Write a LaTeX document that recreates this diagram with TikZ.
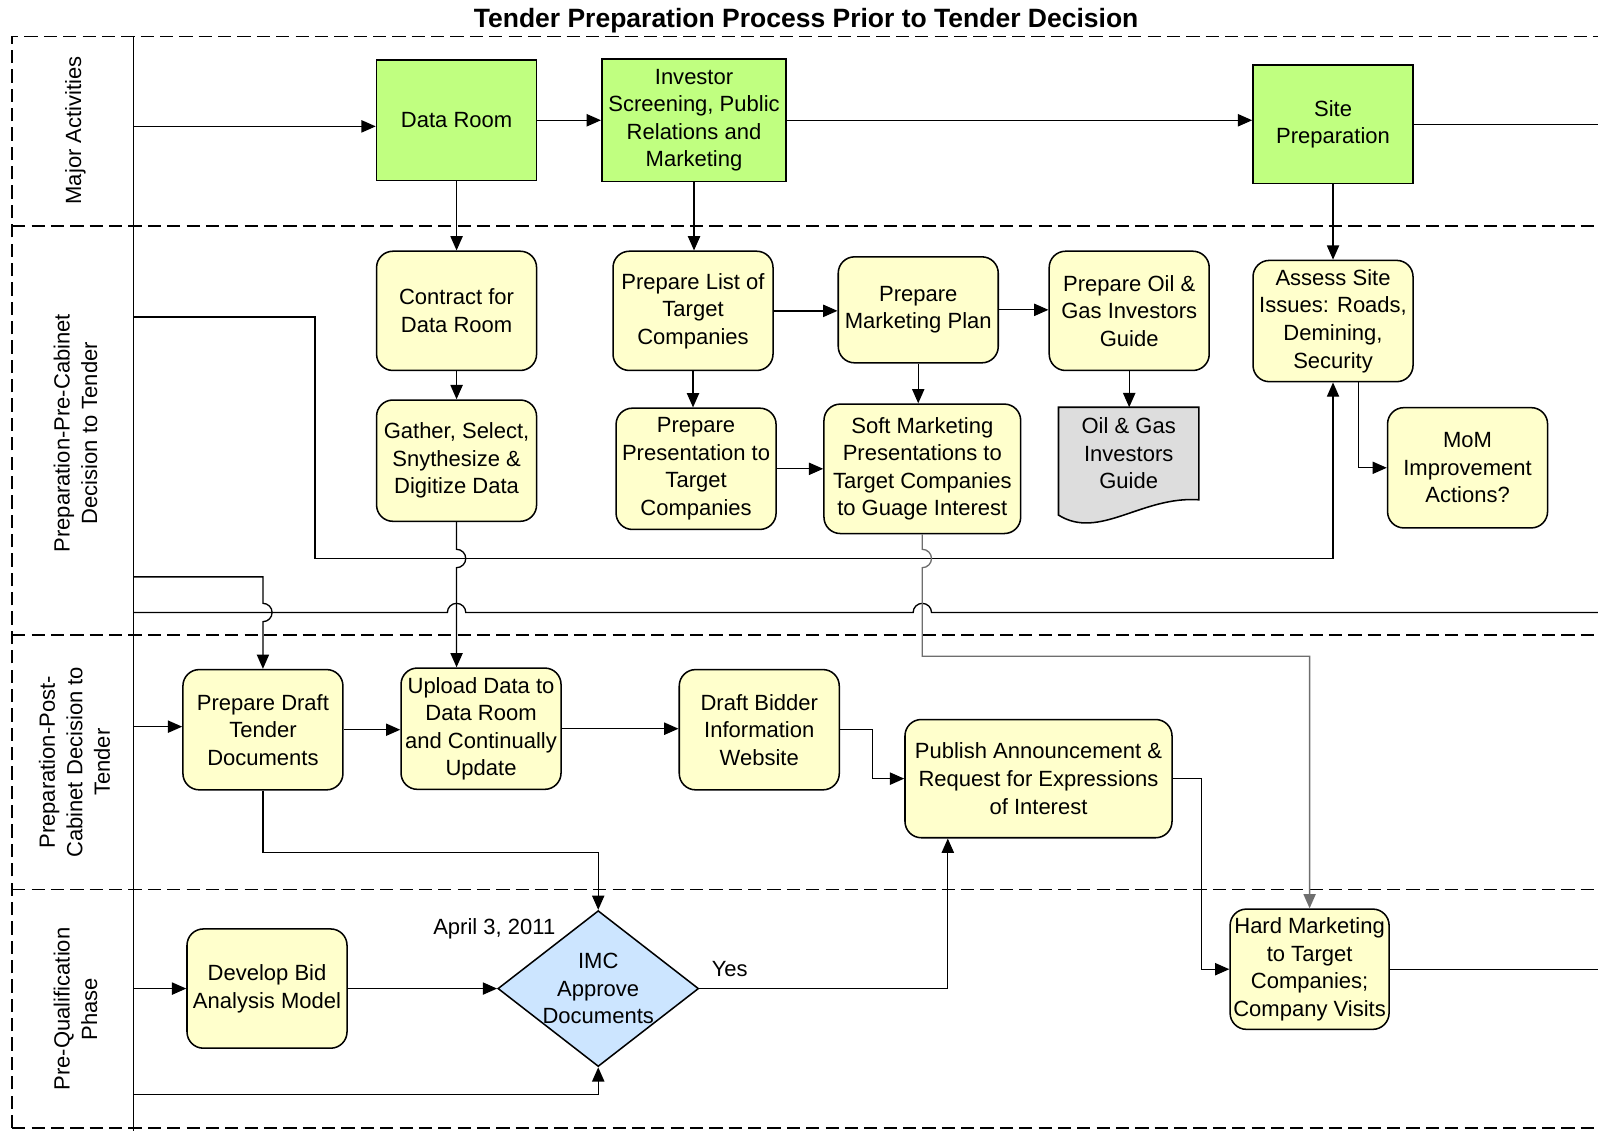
\documentclass[tikz,border=0pt]{standalone}
\usepackage{fontspec}
\setmainfont{Liberation Sans}
\usetikzlibrary{arrows.meta,shapes.geometric,calc,backgrounds}
\definecolor{actgreen}{HTML}{C0FF80}
\definecolor{taskyellow}{HTML}{FFFFCC}
\definecolor{docgray}{HTML}{DDDDDD}
\definecolor{decblue}{HTML}{CCE5FF}
\definecolor{softline}{HTML}{6E6E6E}

\begin{document}
\begin{tikzpicture}[x=0.5pt,y=-0.5pt,
  every node/.style={font=\fontsize{10.8pt}{13.5pt}\selectfont, align=center, inner sep=1pt},
  activity/.style={draw, line width=0.8pt, fill=actgreen, minimum width=78.5pt, minimum height=59pt},
  task/.style={draw, line width=0.75pt, fill=taskyellow, rounded corners=8pt, minimum width=78.5pt, minimum height=59pt},
  decision/.style={draw, line width=0.75pt, fill=decblue, diamond, minimum width=98.5pt, minimum height=76.5pt, inner sep=0pt},
  lane/.style={dash pattern=on 6.5pt off 3pt, line width=0.75pt},
  flow/.style={line width=0.65pt, -{Triangle[length=7pt,width=6pt]}},
  plain/.style={line width=0.65pt},
  lanelabel/.style={rotate=90},
]
\useasboundingbox (0,0) rectangle (1568,1110);

% title
\node[font=\fontsize{13pt}{15pt}\selectfont\bfseries] (title) at (791,20) {Tender Preparation Process Prior to Tender Decision};

% swimlanes
\draw[lane] (12,1107) -- (12,36) -- (1568,36);
\draw[lane] (12,222) -- (1568,222);
\draw[lane] (12,623) -- (1568,623);
\draw[lane] (12,873) -- (1568,873);
\draw[lane] (12,1107) -- (1568,1107);
\draw[line width=0.75pt] (131,36) -- (131,1110);

\node[lanelabel] (laneA) at (74,128) {Major Activities};
\node[lanelabel] (laneB) at (74,425) {Preparation-Pre-Cabinet\\Decision to Tender};
\node[lanelabel] (laneC) at (73,748) {Preparation-Post-\\Cabinet Decision to\\Tender};
\node[lanelabel] (laneD) at (74,990) {Pre-Qualification\\Phase};

% lane entry and exit points
\coordinate (inA) at (131,124);
\coordinate (inB) at (131,311);
\coordinate (inC) at (131,566);
\coordinate (inD) at (131,601);
\coordinate (inE) at (131,713);
\coordinate (inF) at (131,970);
\coordinate (inG) at (131,1074);
\coordinate (outA) at (1568,121);
\coordinate (outD) at (1568,601);
\coordinate (outH) at (1568,951);
\coordinate (busB) at (309,548);
\coordinate (railE) at (905,644);

% major activities
\node[activity] (dataroom) at (448,118) {Data Room};
\node[activity, minimum width=90.5pt, minimum height=60pt] (investor) at (681,118) {Investor\\Screening, Public\\Relations and\\Marketing};
\node[activity, minimum height=58pt] (siteprep) at (1308,122) {Site\\Preparation};

% pre-cabinet preparation
\node[task, minimum height=58.5pt] (contract) at (448,305) {Contract for\\Data Room};
\node[task, minimum height=59.5pt] (gather) at (448,452) {Gather, Select,\\Snythesize \&\\Digitize Data};
\node[task, minimum height=58.5pt] (preplist) at (680,305) {Prepare List of\\Target\\Companies};
\node[task, minimum height=59.5pt] (preppres) at (683,460) {Prepare\\Presentation to\\Target\\Companies};
\node[task, minimum height=52pt] (mktplan) at (901,304) {Prepare\\Marketing Plan};
\node[task, minimum width=96.5pt, minimum height=63.5pt] (soft) at (905,460) {Soft Marketing\\Presentations to\\Target Companies\\to Guage Interest};
\node[task, minimum height=58.5pt] (oilprep) at (1108,305) {Prepare Oil \&\\Gas Investors\\Guide};
\node[minimum width=68.5pt, minimum height=45pt] (guide) at (1107.5,445) {Oil \& Gas\\Investors\\Guide};
\begin{scope}[on background layer]
\draw[line width=0.75pt, fill=docgray] (guide.north west) -- (guide.north east) -- (guide.south east)
  .. controls ($(guide.south east)+(-56,-4)$) and ($(guide.south west)+(40,40)$) .. ($(guide.south west)+(0,15)$) -- cycle;
\end{scope}
\node[task, minimum height=59.5pt] (assess) at (1308,315) {Assess Site\\Issues: Roads,\\Demining,\\Security};
\node[task] (mom) at (1440,459) {MoM\\Improvement\\Actions?};

% post-cabinet preparation
\node[task] (draft) at (258,716) {Prepare Draft\\Tender\\Documents};
\node[task, minimum height=59.5pt] (upload) at (472,715) {Upload Data to\\Data Room\\and Continually\\Update};
\node[task] (bidder) at (745,716) {Draft Bidder\\Information\\Website};
\node[task, minimum width=131pt, minimum height=58pt] (publish) at (1019,764) {Publish Announcement \&\\Request for Expressions\\of Interest};

% pre-qualification phase
\node[task, minimum height=58.5pt] (develop) at (262,970) {Develop Bid\\Analysis Model};
\node[decision] (imc) at (587,970) {};
\node (imctext) at (imc.center) {IMC\\Approve\\Documents};
\node (date) at (485,911) {April 3, 2011};
\node (yes) at (716,951) {Yes};
\node[task, minimum width=78pt] (hard) at (1285,951) {Hard Marketing\\to Target\\Companies;\\Company Visits};

% connectors: major activities
\draw[flow] (inA) -- (inA -| dataroom.west);
\draw[flow] (dataroom.east) -- (dataroom.east -| investor.west);
\draw[flow] (investor.east) -- (investor.east -| siteprep.west);
\draw[plain] (siteprep.east) -- (siteprep.east -| outA);
\draw[flow] (dataroom.south) -- (contract.north);
\draw[flow] (investor.south) -- (investor.south |- preplist.north);
\draw[flow] (siteprep.south) -- (assess.north);

% connectors: pre-cabinet preparation
\draw[flow] (contract.south) -- (gather.north);
\draw[flow] (preplist.south) -- (preplist.south |- preppres.north);
\draw[flow] (preplist.east) -- (preplist.east -| mktplan.west);
\draw[flow] (mktplan.east) -- (mktplan.east -| oilprep.west);
\draw[flow] (mktplan.south) -- (mktplan.south |- soft.north);
\draw[flow] (preppres.east) -- (preppres.east -| soft.west);
\draw[flow] (oilprep.south) -- (oilprep.south |- guide.north);
\draw[flow] ([xshift=12.5pt]assess.south) |- (mom.west);
\draw[flow] (inB) -| (busB) -| (assess.south);

% bus line with hops over the descending connectors
\draw[plain] (inD) -- ($(inD -| gather.south)+(-9,0)$) arc[start angle=180, end angle=0, radius=4.5pt]
  -- ($(inD -| soft.south)+(-9,0)$) arc[start angle=180, end angle=0, radius=4.5pt] -- (outD);

% descending connectors
\draw[flow] (inC) -| ($(draft.north |- inD)+(0,-9)$) arc[start angle=90, end angle=-90, radius=4.5pt] -- (draft.north);
\draw[flow] (gather.south) -- ($(gather.south |- busB)+(0,-9)$) arc[start angle=90, end angle=-90, radius=4.5pt]
  -- (gather.south |- upload.north);
\draw[flow, draw=softline] (soft.south) -- ($(soft.south |- busB)+(0,-9)$) arc[start angle=90, end angle=-90, radius=4.5pt]
  -- (railE) -| (hard.north);

% connectors: post-cabinet preparation
\draw[flow] (inE) -- (inE -| draft.west);
\draw[flow] (draft.east) -- (draft.east -| upload.west);
\draw[flow] (upload.east) -- (upload.east -| bidder.west);
\draw[flow] (bidder.east) -- ++(32,0) |- (publish.west);
\draw[flow] (publish.east) -- ++(28,0) |- (hard.west);
\draw[flow] (draft.south) -- ++(0,61) -| (imc.north);

% connectors: pre-qualification phase
\draw[flow] (inF) -- (inF -| develop.west);
\draw[flow] (develop.east) -- (imc.west);
\draw[flow] (inG) -| (imc.south);
\draw[flow] (imc.east) -| ([xshift=-44.5pt]publish.south);
\draw[plain] (hard.east) -- (hard.east -| outH);

\end{tikzpicture}
\end{document}
